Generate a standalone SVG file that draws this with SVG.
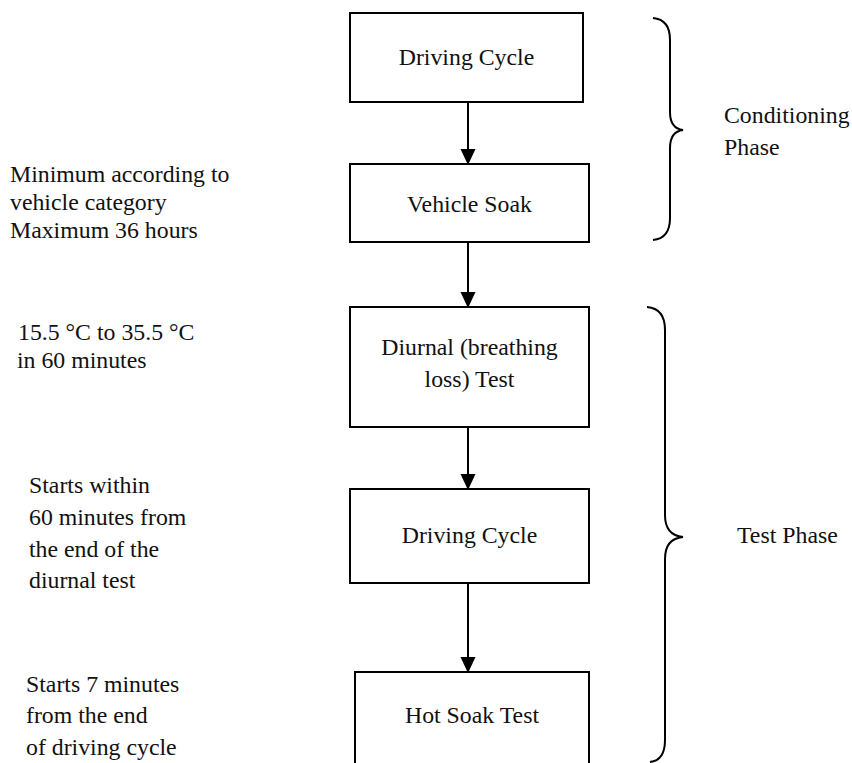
<svg xmlns="http://www.w3.org/2000/svg" width="852" height="763" viewBox="0 0 852 763">
<defs>
<marker id="ah" markerWidth="15" markerHeight="16" refX="15" refY="7.5" orient="auto" markerUnits="userSpaceOnUse">
<path d="M0,0 L16,7.5 L0,15 Z" fill="#000"/>
</marker>
<style>
.box{fill:#fff;stroke:#000;stroke-width:2}
.t{font-family:'Liberation Serif','Times New Roman',serif;font-size:23.8px;fill:#111}
.c{text-anchor:middle}
.line{stroke:#000;stroke-width:2;fill:none}
.brace{stroke:#000;stroke-width:2;fill:none}
</style>
</defs>
<rect width="852" height="763" fill="#fff"/>

<g id="connectors">
<line class="line" x1="468" y1="102" x2="468" y2="164" marker-end="url(#ah)"/>
<line class="line" x1="468" y1="242" x2="468" y2="307" marker-end="url(#ah)"/>
<line class="line" x1="468" y1="427" x2="468" y2="489" marker-end="url(#ah)"/>
<line class="line" x1="468" y1="583" x2="468" y2="672" marker-end="url(#ah)"/>
</g>

<g id="n1">
<rect class="box" x="350" y="13" width="233" height="89"/>
<text class="t c" x="466.5" y="65">Driving Cycle</text>
</g>
<g id="n2">
<rect class="box" x="350" y="164" width="239" height="78"/>
<text class="t c" x="469.5" y="212">Vehicle Soak</text>
</g>
<g id="n3">
<rect class="box" x="350" y="307" width="239" height="120"/>
<text class="t c" x="469.5" y="355">Diurnal (breathing</text>
<text class="t c" x="469.5" y="387">loss) Test</text>
</g>
<g id="n4">
<rect class="box" x="350" y="489" width="239" height="94"/>
<text class="t c" x="469.5" y="543">Driving Cycle</text>
</g>
<g id="n5">
<rect class="box" x="355" y="672" width="234" height="110"/>
<text class="t c" x="472" y="723">Hot Soak Test</text>
</g>

<g id="brace-conditioning">
<path class="brace" d="M653,18 C664,19 670,26 670,40 L670,112 C670,124 675,129 683,130 C675,131 670,136 670,148 L670,218 C670,232 664,239 653,240"/>
<text class="t" x="724" y="123">Conditioning</text>
<text class="t" x="724" y="155">Phase</text>
</g>

<g id="brace-test">
<path class="brace" d="M647,307 C659,308 665,315 665,330 L665,515 C665,530 672,536 683,537 C672,538 665,544 665,559 L665,740 C665,754 660,761 650,762"/>
<text class="t" x="737" y="543">Test Phase</text>
</g>

<g id="notes">
<text class="t" x="10" y="182">Minimum according to</text>
<text class="t" x="10" y="210">vehicle category</text>
<text class="t" x="10" y="238">Maximum 36 hours</text>
<text class="t" x="18" y="340">15.5 °C to 35.5 °C</text>
<text class="t" x="17" y="368">in 60 minutes</text>
<text class="t" x="29" y="493">Starts within</text>
<text class="t" x="29" y="525">60 minutes from</text>
<text class="t" x="29" y="557">the end of the</text>
<text class="t" x="29" y="588">diurnal test</text>
<text class="t" x="26" y="692">Starts 7 minutes</text>
<text class="t" x="26" y="723">from the end</text>
<text class="t" x="26" y="755">of driving cycle</text>
</g>
</svg>
